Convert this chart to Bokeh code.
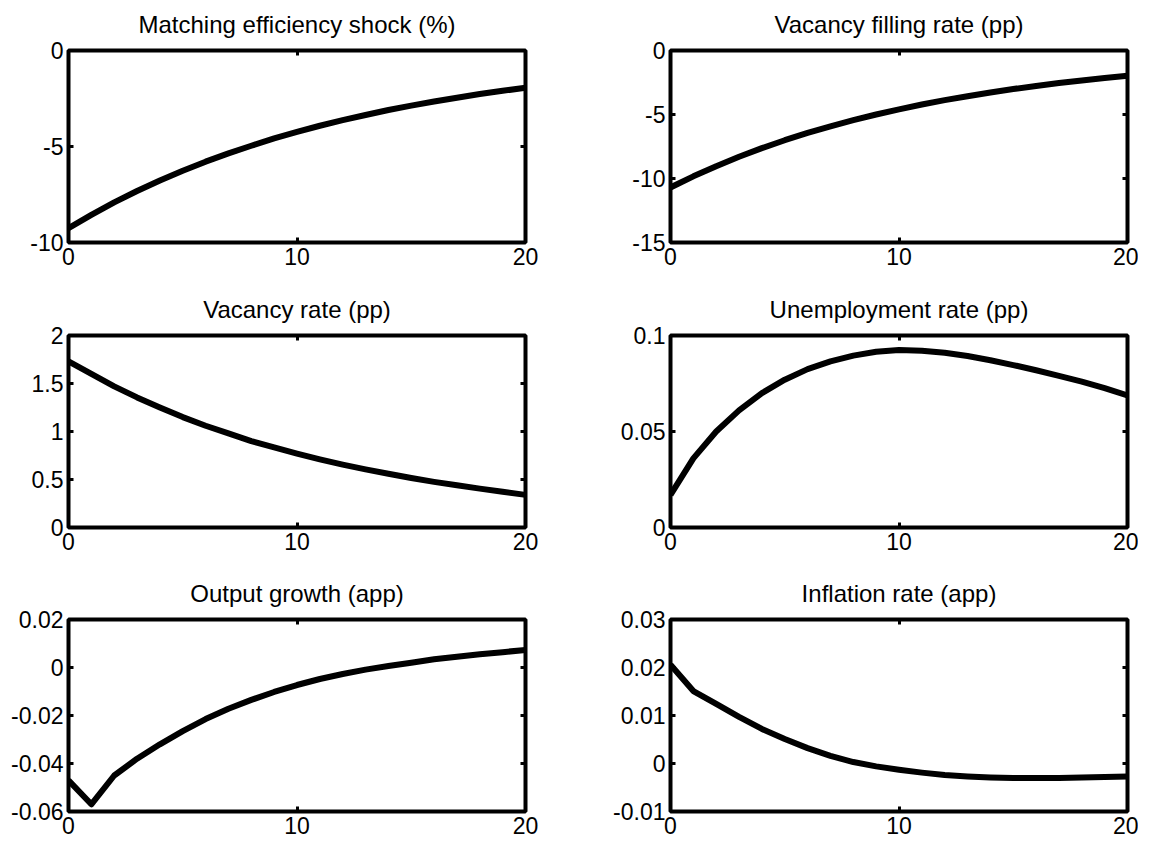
from bokeh.plotting import figure
from bokeh.models import Range1d, FixedTicker, LinearAxis, CustomJSTickFormatter
from bokeh.layouts import gridplot
from bokeh.embed import file_html
from bokeh.resources import INLINE

# ---------------- data ----------------
periods = list(range(21))

matching_efficiency = [-9.25, -8.56, -7.91, -7.32, -6.77, -6.26, -5.79, -5.36, -4.96, -4.58,
                       -4.24, -3.92, -3.63, -3.36, -3.10, -2.87, -2.66, -2.46, -2.27, -2.10, -1.94]
vacancy_filling = [-10.7, -9.83, -9.04, -8.30, -7.63, -7.01, -6.44, -5.92, -5.44, -5.00,
                   -4.60, -4.22, -3.88, -3.57, -3.28, -3.01, -2.77, -2.54, -2.34, -2.15, -1.97]
vacancy_rate = [1.73, 1.60, 1.47, 1.355, 1.25, 1.15, 1.06, 0.98, 0.90, 0.835,
                0.77, 0.71, 0.655, 0.605, 0.56, 0.515, 0.475, 0.44, 0.405, 0.372, 0.34]
unemployment_rate = [0.017, 0.036, 0.050, 0.061, 0.070, 0.077, 0.0825, 0.0865, 0.0895, 0.0915,
                     0.0924, 0.0921, 0.0910, 0.0893, 0.0871, 0.0846, 0.0819, 0.0790, 0.0760, 0.0726, 0.0688]
output_growth = [-0.047, -0.057, -0.045, -0.038, -0.032, -0.0265, -0.0215, -0.0172, -0.0135, -0.0102,
                 -0.0073, -0.0048, -0.0027, -0.0009, 0.0006, 0.0020, 0.0034, 0.0045, 0.0055, 0.0064, 0.0073]
inflation_rate = [0.0206, 0.0151, 0.0124, 0.0097, 0.0072, 0.0051, 0.0032, 0.0016, 0.0003, -0.0006,
                  -0.0013, -0.0019, -0.0024, -0.0027, -0.0029, -0.0030, -0.0030, -0.0030, -0.0029, -0.0028, -0.0027]

titles = ["Matching efficiency shock (%)", "Vacancy filling rate (pp)",
          "Vacancy rate (pp)", "Unemployment rate (pp)",
          "Output growth (app)", "Inflation rate (app)"]
series = [matching_efficiency, vacancy_filling, vacancy_rate,
          unemployment_rate, output_growth, inflation_rate]
y_limits = [(-10, 0), (-15, 0), (0, 2), (0, 0.1), (-0.06, 0.02), (-0.01, 0.03)]
y_ticks = [[-10, -5, 0], [-15, -10, -5, 0], [0, 0.5, 1, 1.5, 2], [0, 0.05, 0.1],
           [-0.06, -0.04, -0.02, 0, 0.02], [-0.01, 0, 0.01, 0.02, 0.03]]
x_ticks = [0, 10, 20]
x_limits = (0, 20)

# ---------------- layout / style ----------------
FONT = "Liberation Sans"
TICK_FS = "23px"
TITLE_FS = "24px"

col_geom = [  # width, min_border_left, min_border_right
    (598, 68, 73),
    (540, 72, 11),
]
row_geom = [  # height, min_border_top, min_border_bottom
    (285, 58, 35),
    (284, 58, 34),
    (282, 58, 32),
]
GRID_SHIFT = -8  # pull the whole grid up so the first row's title band fits

label_fmt = CustomJSTickFormatter(code="return String(Number(tick.toFixed(6)));")
blank_fmt = CustomJSTickFormatter(code="return '';")


def make_axis(ticks, labelled, standoff=5):
    ax = LinearAxis(ticker=FixedTicker(ticks=ticks))
    ax.axis_line_color = None
    ax.major_tick_in = 5
    ax.major_tick_out = 0
    ax.major_tick_line_width = 3
    ax.major_tick_line_color = "black"
    ax.minor_tick_line_color = None
    if labelled:
        ax.formatter = label_fmt
        ax.major_label_standoff = standoff
        ax.major_label_text_font = FONT
        ax.major_label_text_font_size = TICK_FS
        ax.major_label_text_color = "black"
    else:
        ax.formatter = blank_fmt
        ax.major_label_standoff = 0
        ax.major_label_text_font_size = "0px"
    return ax


def make_panel(i):
    r, c = divmod(i, 2)
    w, mbl, mbr = col_geom[c]
    h, mbt, mbb = row_geom[r]
    p = figure(width=w, height=h, output_backend="svg", toolbar_location=None,
               x_range=Range1d(*x_limits), y_range=Range1d(*y_limits[i]),
               x_axis_location=None, y_axis_location=None,
               min_border_left=mbl, min_border_right=mbr,
               min_border_top=mbt, min_border_bottom=mbb)
    p.grid.visible = False
    p.background_fill_color = "white"
    p.border_fill_color = "white"
    p.outline_line_color = "black"
    p.outline_line_width = 4

    p.title.text = titles[i]
    p.title.align = "center"
    p.title.vertical_align = "middle"
    p.title.text_font = FONT
    p.title.text_font_size = TITLE_FS
    p.title.text_font_style = "normal"
    p.title.text_color = "black"
    p.title.standoff = 24

    p.add_layout(make_axis(x_ticks, True, 5), "below")
    p.add_layout(make_axis(x_ticks, False), "above")
    p.add_layout(make_axis(y_ticks[i], True, 5), "left")
    p.add_layout(make_axis(y_ticks[i], False), "right")

    p.line(periods, series[i], line_width=6, line_color="black",
           line_join="round", line_cap="butt")
    return p


panels = [make_panel(i) for i in range(6)]
grid = gridplot([[panels[0], panels[1]], [panels[2], panels[3]], [panels[4], panels[5]]],
                toolbar_location=None)
grid.margin = (GRID_SHIFT, 0, 0, 0)

open("out.html", "w").write(file_html(grid, INLINE))
